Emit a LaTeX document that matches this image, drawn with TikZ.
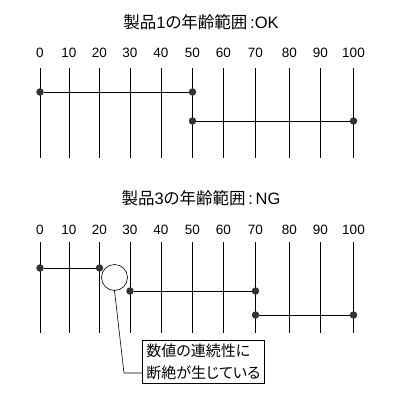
\documentclass[tikz,border=0pt]{standalone}
\usepackage{fontspec}
\setmainfont{Liberation Sans}
\newfontfamily\jp[RawFeature=+palt]{Noto Sans CJK JP}
\begin{document}
\begin{tikzpicture}[x=1pt,y=-1pt,
  grid/.style={line width=1pt},
  seg/.style={line width=1pt},
  dot/.style={circle,fill=black!80,inner sep=0pt,minimum size=7.5pt},
  lbl/.style={font=\fontsize{13.5}{16}\selectfont,inner sep=0pt},
  ttl/.style={font=\fontsize{16.5}{18}\selectfont,inner sep=0pt},
  gap/.style={circle,draw,line width=0.6pt,minimum size=26pt,inner sep=0pt},
  callout/.style={draw,line width=0.8pt,align=left,inner xsep=4pt,inner ysep=3.5pt,font=\jp\fontsize{15}{22}\selectfont},
  leader/.style={line width=0.6pt}]
\useasboundingbox[fill=white] (0,0) rectangle (400,400);
\def\xs{{40,69,99.5,130,161,192.5,223.5,255.5,289.5,320.5,353.5}}
% top
\node[ttl] (t1) at (201,22) {{\jp 製品}1{\jp の年齢範囲}\,:OK};
\foreach \i in {0,...,10}{
  \pgfmathsetmacro{\xx}{\xs[\i]}
  \pgfmathtruncatemacro{\v}{\i*10}
  \node[lbl] (a\i) at (\xx,53) {\v};
  \coordinate (at\i) at (\xx,68);
  \coordinate (ab\i) at (\xx,158);
  \draw[grid] (at\i) -- (ab\i);
}
\node[dot] (p1) at (40,92) {};
\node[dot] (p2) at (192.5,92) {};
\node[dot] (p3) at (192.5,121) {};
\node[dot] (p4) at (353.5,121) {};
\draw[seg] (p1) -- (p2);
\draw[seg] (p3) -- (p4);
% bottom
\node[ttl] (t2) at (201,198) {{\jp 製品}3{\jp の年齢範囲}\,:\,NG};
\foreach \i in {0,...,10}{
  \pgfmathsetmacro{\xx}{\xs[\i]}
  \pgfmathtruncatemacro{\v}{\i*10}
  \node[lbl] (b\i) at (\xx,230) {\v};
  \coordinate (bt\i) at (\xx,242);
  \coordinate (bb\i) at (\xx,333);
  \draw[grid] (bt\i) -- (bb\i);
}
\node[dot] (q1) at (40,268) {};
\node[dot] (q2) at (99.5,268) {};
\node[dot] (q3) at (130,291) {};
\node[dot] (q4) at (255.5,291) {};
\node[dot] (q5) at (255.5,315) {};
\node[dot] (q6) at (353.5,315) {};
\draw[seg] (q1) -- (q2);
\draw[seg] (q3) -- (q4);
\draw[seg] (q5) -- (q6);
\node[gap,fill=white] (g) at (114.5,277.5) {};
\node[callout,anchor=north west] (c) at (142,340) {数値の連続性に\\断絶が生じている};
\coordinate (k) at (124,373);
\draw[leader] (g.south) -- (k) -- (k -| c.west);
\end{tikzpicture}
\end{document}
